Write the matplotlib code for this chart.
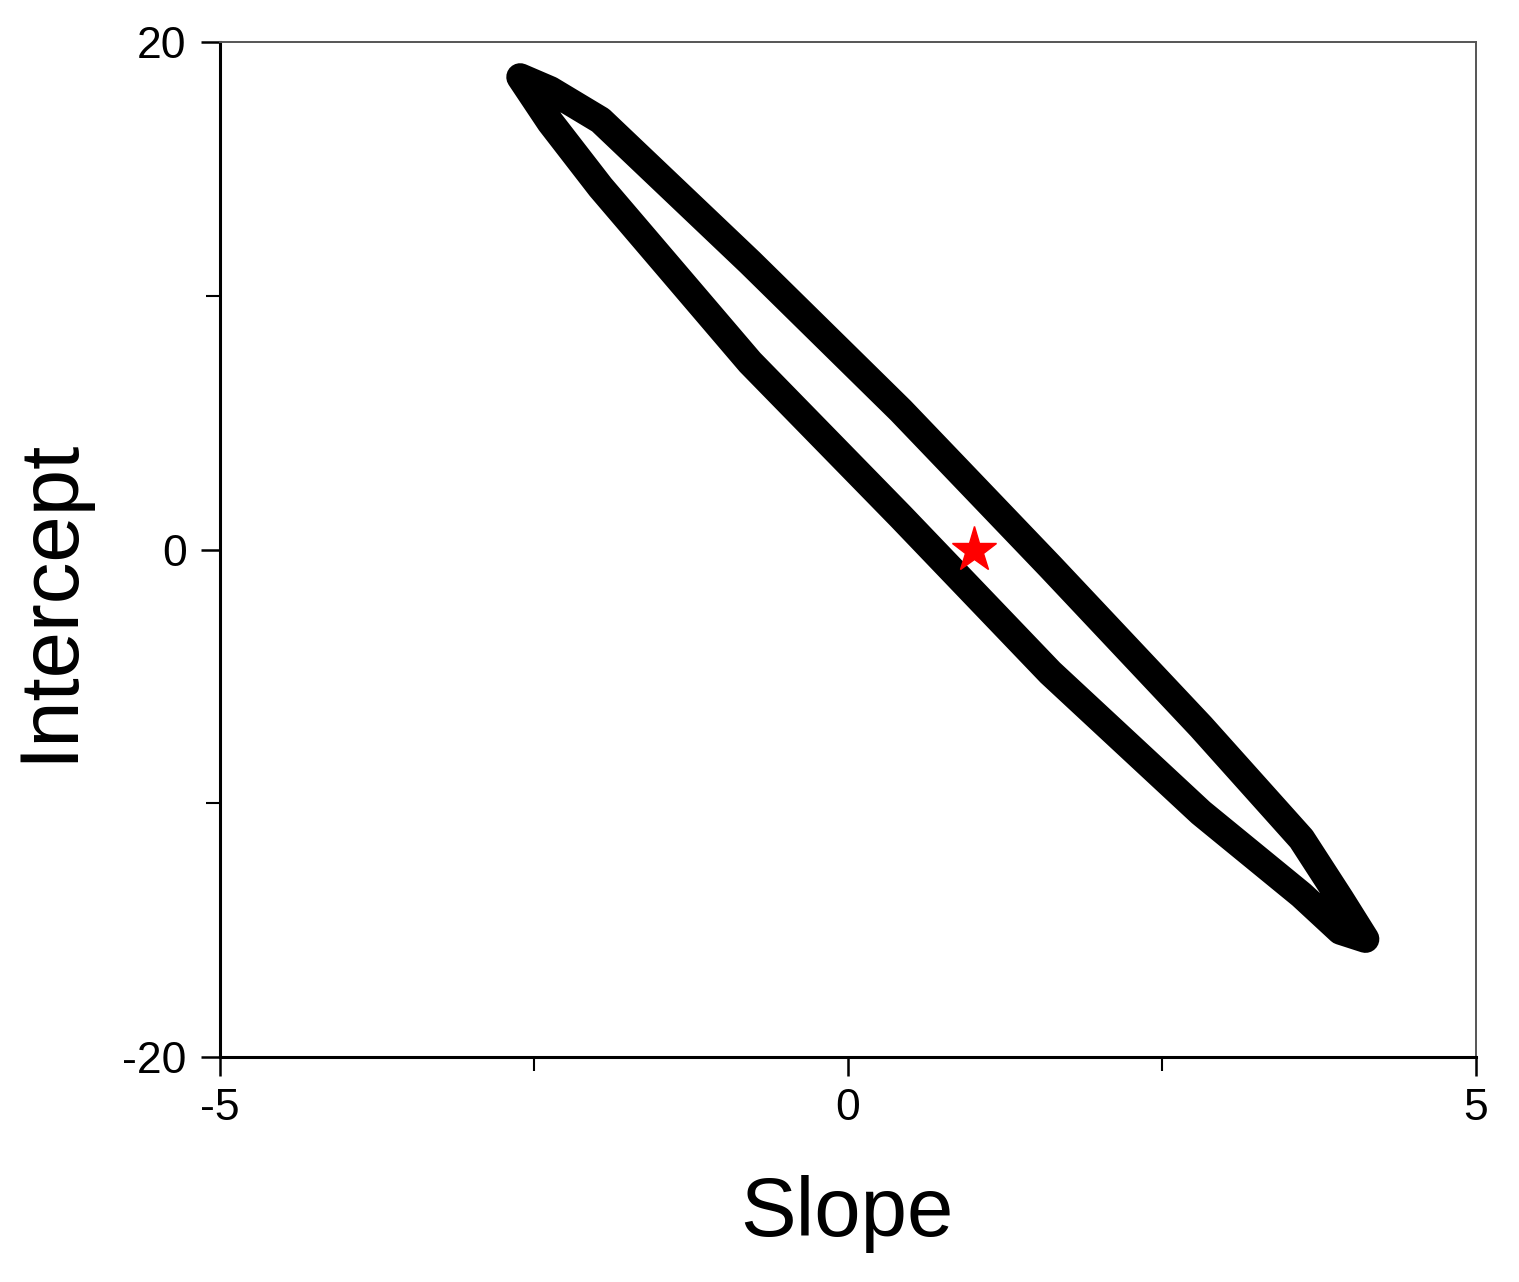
import numpy as np
import matplotlib.pyplot as plt
from matplotlib.patches import Polygon

plt.rcParams['font.family'] = ['Liberation Sans', 'DejaVu Sans']
plt.rcParams['axes.unicode_minus'] = False

# Confidence region boundary
# upper/right branch, from top-left tip to bottom-right tip
slope_upper = [-2.61, -2.37, -1.97, -0.78, 0.42, 1.61, 2.81, 3.61, 3.92, 4.12]
intercept_upper = [18.62, 18.11, 16.92, 11.32, 5.48, -0.67, -6.98, -11.40, -13.77, -15.35]
# lower/left branch, from bottom-right tip back towards the top-left tip
slope_lower = [3.92, 3.61, 2.81, 1.61, 0.42, -0.78, -1.97, -2.37]
intercept_lower = [-15.03, -13.61, -10.37, -4.85, 1.30, 7.38, 14.28, 16.84]

# true parameters (red star)
true_slope = [1.0]
true_intercept = [0.0]

x = np.array(slope_upper + slope_lower)
y = np.array(intercept_upper + intercept_lower)

fig = plt.figure(figsize=(15.19, 12.82), dpi=100)
ax = fig.add_axes([0.1448, 0.1755, 0.8269, 0.7917])

ring = Polygon(np.column_stack([x, y]), closed=True, fill=False,
               edgecolor='black', lw=20, joinstyle='round')
ax.add_patch(ring)
ax.plot(true_slope, true_intercept, marker='*', color='red', ms=34, ls='none', zorder=5)

ax.set_xlim(-5, 5)
ax.set_ylim(-20, 20)
ax.set_xticks([-5, 0, 5])
ax.set_xticks([-2.5, 2.5], minor=True)
ax.set_yticks([-20, 0, 20])
ax.set_yticks([-10, 10], minor=True)

ax.tick_params(which='major', direction='out', length=14, width=1.8, labelsize=32, pad=10)
ax.tick_params(which='minor', direction='out', length=10, width=1.5)
ax.tick_params(axis='x', which='major', pad=8)

for side in ['left', 'bottom']:
    ax.spines[side].set_linewidth(2.2)
for side in ['top', 'right']:
    ax.spines[side].set_linewidth(1.4)
    ax.spines[side].set_color('#555555')

ax.set_xlabel('Slope', fontsize=60)
ax.set_ylabel('Intercept', fontsize=60)
ax.xaxis.set_label_coords(0.499, -0.116)
ax.yaxis.set_label_coords(-0.105, 0.45)

fig.savefig('out.png', dpi=100)
